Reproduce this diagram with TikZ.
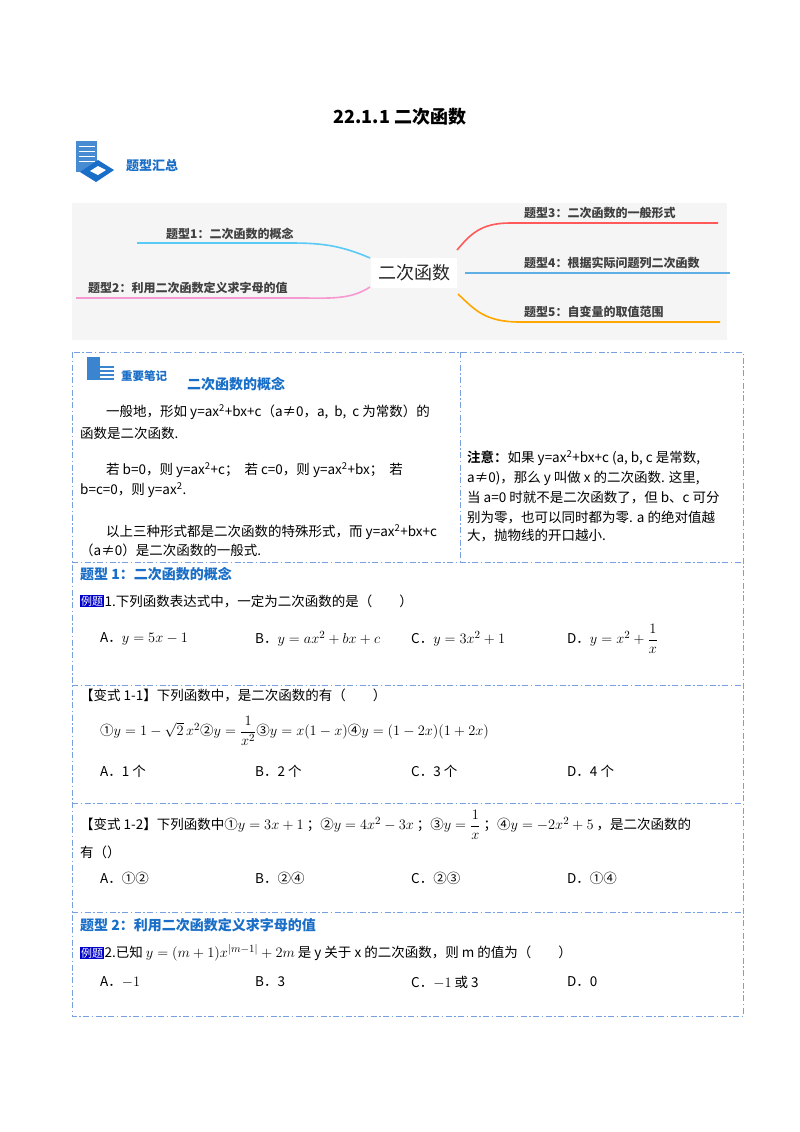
\documentclass[tikz,border=0pt]{standalone}
\usepackage{amsmath}
\usepackage{fontspec}
\setmainfont{Liberation Serif}
\newfontfamily\cjk{Noto Sans CJK SC}
\newfontfamily\cjkb{Noto Sans CJK SC Bold}
\usetikzlibrary{calc}
\definecolor{bl}{RGB}{25,110,200}
\definecolor{dashbl}{RGB}{120,160,225}
\definecolor{mmblue}{RGB}{95,175,230}
\newcommand\mth[1]{{\fontsize{15}{17}\selectfont$#1$}}
\tikzset{
 sep/.style={dashbl,line width=0.9pt,dash pattern=on 6pt off 2.5pt on 1.5pt off 2.5pt},
 txt/.style={anchor=west,inner sep=0pt,font=\fontsize{13.5}{16}\selectfont\cjk},
 head/.style={anchor=west,inner sep=0pt,font=\fontsize{14}{16}\selectfont\cjk\bfseries,text=bl},
 mm/.style={anchor=south west,inner sep=0pt,font=\fontsize{12}{14}\selectfont\cjk\bfseries,text=black!75},
 tag/.style={fill=blue!80!black,text=white,inner sep=1pt,font=\fontsize{11}{12}\selectfont\cjk},
}
\begin{document}
\begin{tikzpicture}[x=1pt,y=-1pt]
\useasboundingbox (0,0) rectangle (800,1132);
\fill[white] (0,0) rectangle (800,1132);
% title
\node[font=\fontsize{18}{20}\selectfont\cjk\bfseries] (title) at (400,117) {22.1.1 二次函数};
% icon 1
\fill[bl!80] (76,141) rectangle (97,172);
\foreach \yy in {146,151,156,161} \draw[white,line width=1pt] (79,\yy) -- (95,\yy);
\fill[bl] (80,172) -- (98,160) -- (114,170) -- (96,182) -- cycle;
\fill[white] (90,171) -- (98,166) -- (106,170) -- (98,175) -- cycle;
\node[font=\fontsize{13}{14}\selectfont\cjk\bfseries,text=bl,anchor=west,inner sep=0pt] (tx) at (126,166) {题型汇总};
% mind map
\fill[black!4] (72,203) rectangle (727,340);
\node[font=\fontsize{18}{20}\selectfont\cjk,text=black!85,fill=white,inner sep=7pt] (c) at (414,273) {二次函数};
\draw[cyan!65,line width=1.6pt] (370,258) .. controls (340,245) and (320,243) .. (290,243) -- (137,243);
\node[mm] (t1) at (166,240) {题型1：二次函数的概念};
\draw[magenta!40,line width=1.6pt] (370,287) .. controls (350,300) and (330,298) .. (300,298) -- (76,298);
\node[mm] (t2) at (88,294) {题型2：利用二次函数定义求字母的值};
\draw[red!65,line width=1.6pt] (457,250) .. controls (470,235) and (480,223) .. (510,223) -- (718,223);
\node[mm] (t3) at (524,219) {题型3：二次函数的一般形式};
\draw[mmblue,line width=1.6pt] (465,273) -- (730,273);
\node[mm] (t4) at (524,269) {题型4：根据实际问题列二次函数};
\draw[orange!70!yellow,line width=1.6pt] (458,294) .. controls (475,310) and (485,322) .. (520,322) -- (720,322);
\node[mm] (t5) at (524,318) {题型5：自变量的取值范围};
% boxes
\draw[sep] (72,352) rectangle (743,1016);
\draw[sep] (460,352) -- (460,562);
\foreach \yy in {562,685,803,912} \draw[sep] (72,\yy) -- (743,\yy);
% icon 2
\fill[bl!85] (87,357) rectangle (100,380);
\foreach \yy in {367,371,375,379} \draw[bl!85,line width=2.5pt] (96,\yy) -- (114,\yy);
\foreach \yy in {367,371,375,379} \draw[white,line width=0.6pt] (100,\yy+1.6) -- (114,\yy+1.6);
\node[font=\fontsize{11.5}{13}\selectfont\cjk\bfseries,text=bl,anchor=west,inner sep=0pt] (zy) at (121,376) {重要笔记};
\node[head] (h0) at (187,384) {二次函数的概念};
% left notes
\node[txt] (p1a) at (106,412) {一般地，形如 y=ax\textsuperscript{2}+bx+c（a≠0，a,\ \ b,\ \ c 为常数）的};
\node[txt] (p1b) at (80,433) {函数是二次函数.};
\node[txt] (p2a) at (106,470) {若 b=0，则 y=ax\textsuperscript{2}+c；\ \ 若 c=0，则 y=ax\textsuperscript{2}+bx；\ \ 若};
\node[txt] (p2b) at (80,490) {b=c=0，则 y=ax\textsuperscript{2}.};
\node[txt] (p3a) at (106,532) {以上三种形式都是二次函数的特殊形式，而 y=ax\textsuperscript{2}+bx+c};
\node[txt] (p3b) at (80,550) {（a≠0）是二次函数的一般式.};
% right notes
\node[txt] (n1) at (467,458) {{\cjkb 注意：}如果 y=ax\textsuperscript{2}+bx+c (a, b, c 是常数,};
\node[txt] (n2) at (467,478) {a≠0)，那么 y 叫做 x 的二次函数. 这里,};
\node[txt] (n3) at (467,498) {当 a=0 时就不是二次函数了，但 b、c 可分};
\node[txt] (n4) at (467,517) {别为零，也可以同时都为零. a 的绝对值越};
\node[txt] (n5) at (467,536) {大，抛物线的开口越小.};
% type 1
\node[head] (h1) at (80,574) {题型 1：二次函数的概念};
\node[tag,anchor=west] (e1) at (80,601) {例题};
\node[txt,anchor=west] (q1) at (e1.east) {1.下列函数表达式中，一定为二次函数的是（\qquad）};
\node[txt] (a1) at (100,639) {A．\mth{y=5x-1}};
\node[txt] (b1) at (255,639) {B．\mth{y=ax^2+bx+c}};
\node[txt] (c1) at (411,639) {C．\mth{y=3x^2+1}};
\node[txt] (d1) at (567,639) {D．\mth{y=x^2+\dfrac{1}{x}}};
\node[txt] (v1) at (80,695) {【变式 1-1】下列函数中，是二次函数的有（\qquad）};
\node[txt] (v1e) at (100,731) {①\mth{y=1-\sqrt{2}\,x^2}②\mth{y=\dfrac{1}{x^2}}③\mth{y=x(1-x)}④\mth{y=(1-2x)(1+2x)}};
\node[txt] (a2) at (100,771) {A．1 个};
\node[txt] (b2) at (255,771) {B．2 个};
\node[txt] (c2) at (411,771) {C．3 个};
\node[txt] (d2) at (567,771) {D．4 个};
\node[txt] (v2) at (80,825) {【变式 1-2】下列函数中①\mth{y=3x+1}\ ；②\mth{y=4x^2-3x}\ ；③\mth{y=\dfrac{1}{x}}\ ；④\mth{y=-2x^2+5}\ ，是二次函数的};
\node[txt] (v2b) at (80,852) {有（）};
\node[txt] (a3) at (100,878) {A．①②};
\node[txt] (b3) at (255,878) {B．②④};
\node[txt] (c3) at (411,878) {C．②③};
\node[txt] (d3) at (567,878) {D．①④};
% type 2
\node[head] (h2) at (80,925) {题型 2：利用二次函数定义求字母的值};
\node[tag,anchor=west] (e2) at (80,953) {例题};
\node[txt,anchor=west] (q2) at (e2.east) {2.已知\ \mth{y=(m+1)x^{|m-1|}+2m}\ 是 y 关于 x 的二次函数，则 m 的值为（\qquad）};
\node[txt] (a4) at (100,982) {A．\mth{-1}};
\node[txt] (b4) at (255,982) {B．3};
\node[txt] (c4) at (411,982) {C．\mth{-1} 或 3};
\node[txt] (d4) at (567,982) {D．0};
\end{tikzpicture}
\end{document}
